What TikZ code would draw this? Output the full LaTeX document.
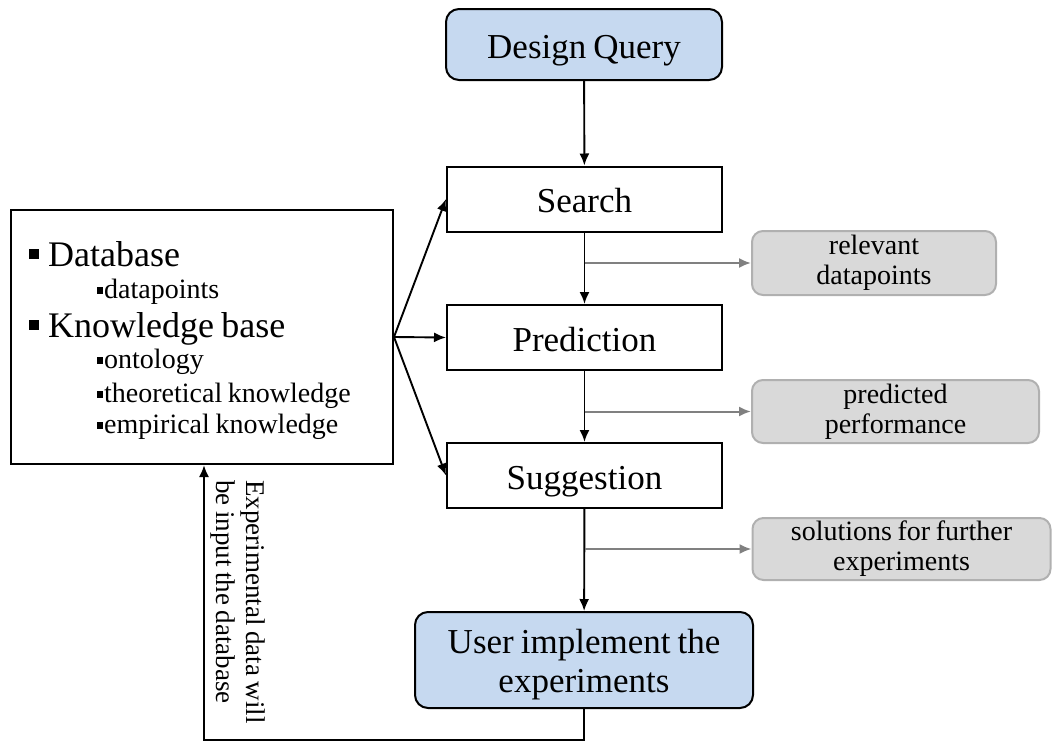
\documentclass[tikz,border=0pt]{standalone}
\usepackage{fontspec}
\setmainfont{Liberation Serif}[WordSpace=0.8]
\usetikzlibrary{arrows.meta}
\definecolor{stepblue}{HTML}{C6D9F0}
\definecolor{notegray}{HTML}{D9D9D9}
\definecolor{noteedge}{HTML}{B0B0B0}
\definecolor{notearrow}{HTML}{808080}
\newcommand{\bigtxt}{\fontsize{35}{39}\selectfont}
\newcommand{\headtxt}{\fontsize{36}{40}\selectfont}
\newcommand{\subtxt}{\fontsize{28}{30}\selectfont}
\newcommand{\bigmark}{\rule[7pt]{10pt}{10pt}\hspace{9pt}}
\newcommand{\submark}{\rule[4pt]{6pt}{7pt}\hspace{1pt}}
\tikzset{
  stepbox/.style={draw=black, line width=2pt, fill=white, inner sep=0pt,
    minimum width=275pt, minimum height=65pt, font=\bigtxt,
    text height=27pt, text depth=0pt},
  endbox/.style={draw=black, line width=2pt, fill=stepblue, rounded corners=13pt,
    inner sep=0pt, align=center, font=\bigtxt},
  notebox/.style={draw=noteedge, line width=2pt, fill=notegray, rounded corners=11pt,
    inner sep=0pt, align=center, font=\subtxt},
  flow/.style={draw=black, line width=1.9pt, -{Latex[length=12pt,width=10pt]}},
  noteflow/.style={draw=notearrow, line width=2pt, -{Latex[length=12pt,width=10pt]}},
  item/.style={anchor=base west, inner sep=0pt},
}
\begin{document}
\begin{tikzpicture}[x=1pt, y=-1pt]
\useasboundingbox (0,0) rectangle (1052,742);

% main flow
\node[endbox, minimum width=276pt, minimum height=71pt, text height=27pt, text depth=0pt]
  (dq) at (584,44.5) {Design Query};
\node[stepbox] (search) at (584.5,199) {Search};
\node[stepbox] (pred) at (584.5,337.5) {Prediction};
\node[stepbox] (sugg) at (584.5,475.5) {Suggestion};
\node[endbox, minimum width=338pt, minimum height=96pt] (user) at (584,660)
  {\rule{0pt}{33pt}User implement the\\ experiments};

% resources box
\node[draw=black, line width=2pt, minimum width=382pt, minimum height=254pt, inner sep=0pt] (kb) at (202,337) {};
\node[item, font=\headtxt] (db) at (29,266) {\bigmark Database};
\node[item, font=\subtxt] (dp) at (97,298) {\submark datapoints};
\node[item, font=\headtxt] (kbt) at (29,337) {\bigmark Knowledge base};
\node[item, font=\subtxt] (onto) at (97,368) {\submark ontology};
\node[item, font=\subtxt] (theo) at (97,402) {\submark theoretical knowledge};
\node[item, font=\subtxt] (emp) at (97,433) {\submark empirical knowledge};

% outputs
\node[notebox, minimum width=244pt, minimum height=64pt] (rel) at (874,263) {relevant\\datapoints};
\node[notebox, minimum width=287pt, minimum height=63pt] (perf) at (895.5,411.5) {predicted\\performance};
\node[notebox, minimum width=298pt, minimum height=62pt] (sol) at (901.5,549) {solutions for further\\experiments};

% connectors
\draw[flow] (dq) -- (search);
\draw[flow] (search) -- (pred);
\draw[flow] (pred) -- (sugg);
\draw[flow] (sugg) -- (user);

\coordinate (b1) at (search.south |- rel.west);
\coordinate (b2) at (pred.south |- perf.west);
\coordinate (b3) at (sugg.south |- sol.west);
\draw[noteflow] (b1) -- (rel.west);
\draw[noteflow] (b2) -- (perf.west);
\draw[noteflow] (b3) -- (sol.west);

\draw[flow] (kb.east) -- (search.west);
\draw[flow] (kb.east) -- (pred.west);
\draw[flow] (kb.east) -- (sugg.west);

% feedback loop
\coordinate (fb1) at (user.south |- 0,740);
\coordinate (fb2) at (204,740);
\draw[flow] (user.south) -- (fb1) -- (fb2) -- (fb2 |- kb.south);
\node[rotate=-90, align=left, font=\fontsize{27}{30}\selectfont, inner sep=0pt] (fbl) at (238,602)
  {Experimental data will\\be input the database};
\end{tikzpicture}
\end{document}
